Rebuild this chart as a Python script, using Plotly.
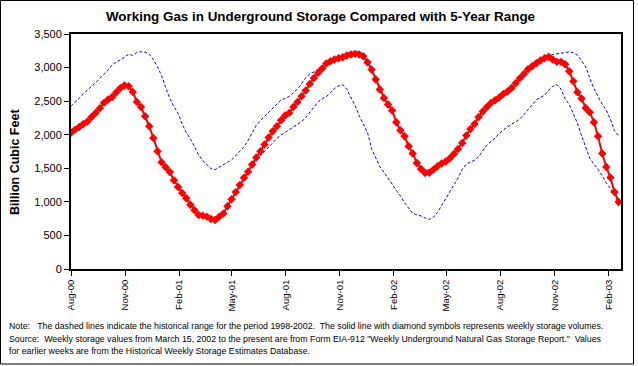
import pandas as pd
import plotly.graph_objects as go

# ---- data ----
first_week = "2000-08-04"
n_weeks = 134
weeks = pd.date_range(first_week, periods=n_weeks, freq="7D")

storage = [
    2030, 2076, 2116, 2161, 2196, 2265, 2325, 2394, 2474, 2523,
    2563, 2633, 2697, 2732, 2722, 2638, 2489, 2414, 2275, 2126,
    1952, 1753, 1589, 1515, 1445, 1321, 1222, 1132, 1053, 958,
    874, 805, 795, 780, 745, 730, 780, 825, 934, 1040,
    1145, 1250, 1360, 1450, 1555, 1660, 1753, 1853, 1960, 2051,
    2126, 2215, 2285, 2325, 2414, 2489, 2573, 2658, 2757, 2846,
    2921, 2986, 3060, 3095, 3120, 3140, 3154, 3179, 3194, 3204,
    3194, 3169, 3080, 2971, 2822, 2673, 2548, 2449, 2360, 2186,
    2066, 1977, 1828, 1719, 1580, 1490, 1430, 1435, 1480, 1530,
    1570, 1600, 1649, 1714, 1788, 1878, 1987, 2086, 2161, 2265,
    2345, 2414, 2474, 2514, 2553, 2608, 2643, 2697, 2767, 2841,
    2906, 2976, 3020, 3065, 3105, 3140, 3160, 3120, 3085, 3085,
    3050, 2946, 2797, 2633, 2538, 2399, 2335, 2186, 1977, 1719,
    1520, 1361, 1147, 998,
]

range_max = [
    2424, 2480, 2545, 2610, 2665, 2710, 2775, 2840, 2900, 2960,
    3040, 3085, 3115, 3160, 3200, 3180, 3225, 3235, 3230, 3200,
    3120, 3010, 2880, 2700, 2540, 2420, 2320, 2160, 2030, 1940,
    1830, 1700, 1615, 1555, 1495, 1480, 1515, 1560, 1595, 1625,
    1685, 1750, 1820, 1915, 2030, 2140, 2210, 2270, 2330, 2390,
    2455, 2518, 2540, 2570, 2628, 2680, 2760, 2850, 2905, 2940,
    2970, 3020, 3055, 3100, 3135, 3155, 3185, 3205, 3225, 3235,
    3230, 3200, 3100, 2985, 2840, 2690, 2560, 2460, 2375, 2200,
    2080, 1990, 1845, 1735, 1600, 1510, 1470, 1475, 1495, 1540,
    1575, 1605, 1652, 1716, 1790, 1880, 1990, 2088, 2165, 2270,
    2350, 2418, 2478, 2520, 2560, 2612, 2650, 2703, 2772, 2845,
    2910, 2980, 3025, 3070, 3110, 3145, 3170, 3195, 3205, 3215,
    3228, 3234, 3220, 3185, 3105, 3010, 2840, 2690, 2570, 2455,
    2365, 2230, 2060, 1985,
]

range_min = [
    2030, 2076, 2116, 2161, 2196, 2265, 2325, 2394, 2474, 2523,
    2563, 2633, 2697, 2732, 2722, 2638, 2489, 2414, 2275, 2126,
    1952, 1753, 1589, 1515, 1445, 1321, 1222, 1132, 1053, 958,
    874, 805, 795, 780, 745, 730, 780, 825, 934, 1040,
    1145, 1250, 1360, 1450, 1545, 1625, 1690, 1750, 1820, 1890,
    1945, 1995, 2035, 2080, 2122, 2155, 2195, 2255, 2335, 2418,
    2490, 2535, 2566, 2625, 2690, 2728, 2742, 2675, 2562, 2435,
    2282, 2160, 2036, 1790, 1650, 1525, 1440, 1360, 1265, 1170,
    1090, 985, 905, 830, 805, 790, 760, 738, 770, 840,
    945, 1045, 1150, 1250, 1355, 1480, 1565, 1590, 1620, 1675,
    1760, 1845, 1900, 1950, 2020, 2070, 2116, 2160, 2190, 2235,
    2300, 2380, 2445, 2520, 2560, 2590, 2660, 2722, 2745, 2680,
    2535, 2452, 2310, 2170, 1985, 1820, 1650, 1560, 1485, 1390,
    1280, 1200, 1090, 990,
]

tick_dates = ["2000-08-04", "2000-11-04", "2001-02-04", "2001-05-04", "2001-08-04",
              "2001-11-04", "2002-02-04", "2002-05-04", "2002-08-04", "2002-11-04",
              "2003-02-04"]
tick_labels = ["Aug-00", "Nov-00", "Feb-01", "May-01", "Aug-01", "Nov-01",
               "Feb-02", "May-02", "Aug-02", "Nov-02", "Feb-03"]
x_range = ["2000-08-04", "2003-02-25"]
y_ticks = [0, 500, 1000, 1500, 2000, 2500, 3000, 3500]

title_text = "Working Gas in Underground Storage Compared with 5-Year Range"
y_title = "Billion Cubic Feet"
note_lines = [
    "Note:\u00a0\u00a0 The dashed lines indicate the historical range for the period 1998-2002.\u00a0 The solid line with diamond symbols represents weekly storage volumes.",
    "Source:\u00a0 Weekly storage values from March 15, 2002 to the present are from Form EIA-912 \"Weekly Underground Natural Gas Storage Report.\"\u00a0 Values",
    "for earlier weeks are from the Historical Weekly Storage Estimates Database.",
]

# ---- figure ----
W, H = 638, 366
L, R, T, B = 71, 17, 34, 97
pw, ph = W - L - R, H - T - B

def px_x(x):
    return (x - L) / pw

def px_y(y):
    return (H - B - y) / ph

FONT = "Arial, 'Liberation Sans', sans-serif"

fig = go.Figure()
for vals in (range_max, range_min):
    fig.add_trace(go.Scatter(
        x=weeks, y=vals, mode="lines",
        line=dict(color="#0000FF", width=1, dash="3px,2px"),
        hoverinfo="skip", showlegend=False))
fig.add_trace(go.Scatter(
    x=weeks, y=storage, mode="lines+markers",
    line=dict(color="#FF0000", width=2),
    marker=dict(symbol="diamond", size=6.5, color="#FF0000", line=dict(width=0)),
    showlegend=False))

axis_common = dict(showline=True, linecolor="black", linewidth=2, mirror=True,
                   ticks="outside", ticklen=5, tickwidth=1, tickcolor="black",
                   showgrid=False, zeroline=False)

fig.update_layout(
    width=W, height=H,
    margin=dict(l=L, r=R, t=T, b=B),
    paper_bgcolor="white", plot_bgcolor="white",
    font=dict(family=FONT, size=11, color="black"),
    title=dict(text=title_text, x=320.5 / W, xref="container", xanchor="center",
               y=1 - 16 / H, yref="container", yanchor="middle",
               font=dict(family=FONT, size=13.4, color="black", weight="bold")),
    xaxis=dict(type="date", range=x_range, tickmode="array",
               tickvals=tick_dates, ticktext=tick_labels, tickangle=-90,
               tickfont=dict(family=FONT, size=9.5), **axis_common),
    yaxis=dict(range=[0, 3500], tickmode="array", tickvals=y_ticks,
               tickformat=",", tickfont=dict(family=FONT, size=11), **axis_common),
    hovermode=False,
)

fig.add_annotation(text=y_title, textangle=-90, xref="paper", yref="paper",
                   x=px_x(15), y=px_y(162), xanchor="center", yanchor="middle",
                   showarrow=False, font=dict(family=FONT, size=12.5, weight="bold"))

for line_text, ypix in zip(note_lines, [326, 338.5, 350.5]):
    fig.add_annotation(text=line_text, xref="paper", yref="paper",
                       x=px_x(7), y=px_y(ypix), xanchor="left", yanchor="middle",
                       showarrow=False, align="left",
                       font=dict(family=FONT, size=8.8))

# outer chart frame
frame = dict(color="black", width=1)
for (xa, ya, xb, yb) in [(0.5, 0.5, 633.5, 0.5), (0.5, 364, 633.5, 364),
                         (0.5, 0.5, 0.5, 364), (633.5, 0.5, 633.5, 364)]:
    fig.add_shape(type="line", xref="paper", yref="paper",
                  x0=px_x(xa), y0=px_y(ya), x1=px_x(xb), y1=px_y(yb),
                  line=frame, layer="above")

fig.write_html("out.html", config={"displayModeBar": False},
               post_script="document.body.style.margin='0';")
